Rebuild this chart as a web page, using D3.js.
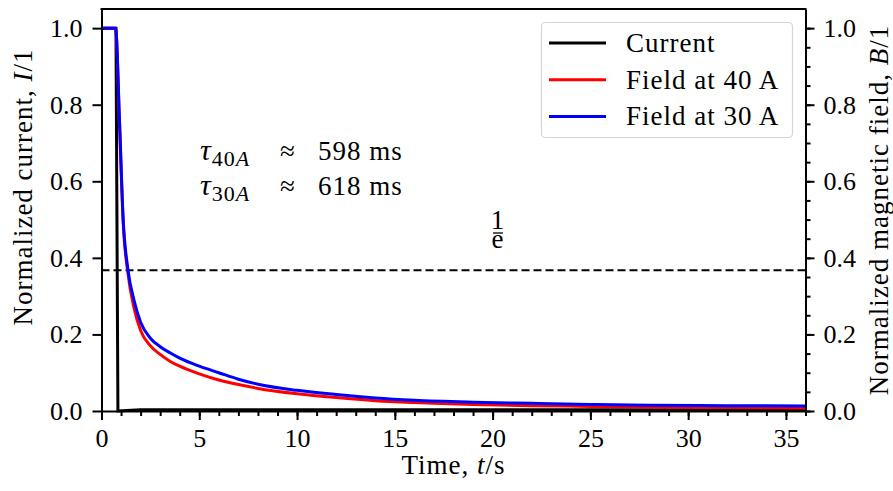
<!DOCTYPE html>
<meta charset="utf-8">
<style>
    body {
        margin: 0;
        background: #fff;
    }
    .axis path,
    .axis line {
        fill: none;
        stroke: #000;
        stroke-width: 2;
    }
    .axis text {
        font: 26px "Liberation Serif", serif;
        fill: #000;
    }
    .label {
        font: 27px "Liberation Serif", serif;
        letter-spacing: 1px;
        fill: #000;
    }
</style>
<body>
<script src="https://d3js.org/d3.v7.min.js"></script>
<script>
    // time axis shared by the two field curves (s)
    var fieldTime = [0, 0.72, 0.92, 1.11, 1.35, 1.66, 2.0, 2.5, 3.0, 3.5, 4.0, 5.0, 6.0, 7.0, 8.0, 10, 12, 14, 16, 19, 22, 25, 28, 32, 36];
    var field40 = [1, 1, 0.75, 0.49, 0.36, 0.27, 0.21, 0.17, 0.148, 0.13, 0.117, 0.097, 0.081, 0.069, 0.059, 0.045, 0.035, 0.027, 0.022, 0.017, 0.014, 0.012, 0.010, 0.009, 0.008];
    var field30 = [1, 1, 0.76, 0.50, 0.37, 0.29, 0.232, 0.19, 0.168, 0.152, 0.138, 0.117, 0.100, 0.083, 0.070, 0.054, 0.043, 0.034, 0.028, 0.023, 0.020, 0.017, 0.015, 0.014, 0.013];

    var currentTime = [0, 0.74, 0.84, 2, 36];
    var current = [1, 1, 0, 0.003, 0.003];

    var legendNames = ["Current", "Field at 40 A", "Field at 30 A"];
    var legendColors = ["#000", "red", "blue"];

    var xTicks = [0, 5, 10, 15, 20, 25, 30, 35];
    var yTicks = [0, 0.2, 0.4, 0.6, 0.8, 1.0];
    var invE = Math.exp(-1);

    var width = 893, height = 491;
    var plotL = 101.5, plotR = 805.5, plotT = 9, plotB = 411;

    var x = d3.scaleLinear().domain([0, 36]).range([plotL, plotR]);
    var y = d3.scaleLinear().domain([0, 1.05]).range([plotB, plotT]);

    var svg = d3.select("body").append("svg")
        .attr("width", width)
        .attr("height", height);

    // 1/e line
    svg.append("line")
        .attr("x1", plotL).attr("x2", plotR)
        .attr("y1", y(invE)).attr("y2", y(invE))
        .attr("stroke", "#000")
        .attr("stroke-width", 2)
        .attr("stroke-dasharray", "8,4");

    var line = d3.line()
        .x(function(d) { return x(d[0]); })
        .y(function(d) { return y(d[1]); });

    var smooth = d3.line()
        .curve(d3.curveMonotoneX)
        .x(function(d) { return x(d[0]); })
        .y(function(d) { return y(d[1]); });

    svg.append("path")
        .datum(d3.zip(currentTime, current))
        .attr("d", line)
        .attr("fill", "none")
        .attr("stroke", "#000")
        .attr("stroke-width", 3);

    svg.append("path")
        .datum(d3.zip(fieldTime, field40))
        .attr("d", smooth)
        .attr("fill", "none")
        .attr("stroke", "red")
        .attr("stroke-width", 3);

    svg.append("path")
        .datum(d3.zip(fieldTime, field30))
        .attr("d", smooth)
        .attr("fill", "none")
        .attr("stroke", "blue")
        .attr("stroke-width", 3);

    // axes
    svg.append("g")
        .attr("class", "axis")
        .attr("transform", "translate(0," + plotB + ")")
        .call(d3.axisBottom(x).tickValues(d3.range(0, 37, 1)).tickSize(5).tickFormat(""))
        .select(".domain").remove();

    svg.append("g")
        .attr("class", "axis")
        .attr("transform", "translate(0," + plotB + ")")
        .call(d3.axisBottom(x).tickValues(xTicks).tickSize(9).tickPadding(9).tickSizeOuter(0).tickFormat(d3.format("d")));

    svg.append("g")
        .attr("class", "axis")
        .attr("transform", "translate(" + plotL + ",0)")
        .call(d3.axisLeft(y).tickValues(yTicks).tickSize(9).tickPadding(10).tickSizeOuter(0).tickFormat(d3.format(".1f")));

    svg.append("g")
        .attr("class", "axis")
        .attr("transform", "translate(" + plotR + ",0)")
        .call(d3.axisRight(y).tickValues(d3.range(0, 1.01, 0.05)).tickSize(5).tickFormat(""))
        .select(".domain").remove();

    svg.append("g")
        .attr("class", "axis")
        .attr("transform", "translate(" + plotR + ",0)")
        .call(d3.axisRight(y).tickValues(yTicks).tickSize(9).tickPadding(9).tickSizeOuter(0).tickFormat(d3.format(".1f")));

    // top spine
    svg.append("line")
        .attr("x1", plotL - 1).attr("x2", plotR + 1)
        .attr("y1", plotT).attr("y2", plotT)
        .attr("stroke", "#000").attr("stroke-width", 2);

    // axis labels
    var xl = svg.append("text").attr("class", "label")
        .attr("x", (plotL + plotR) / 2).attr("y", 474)
        .attr("text-anchor", "middle");
    xl.append("tspan").text("Time, ");
    xl.append("tspan").attr("font-style", "italic").text("t");
    xl.append("tspan").text("/s");

    var yl = svg.append("text").attr("class", "label")
        .attr("transform", "translate(32,187) rotate(-90)")
        .attr("text-anchor", "middle");
    yl.append("tspan").text("Normalized current, ");
    yl.append("tspan").attr("font-style", "italic").text("I");
    yl.append("tspan").text("/1");

    var yr = svg.append("text").attr("class", "label")
        .attr("transform", "translate(888," + ((plotT + plotB) / 2) + ") rotate(-90)")
        .attr("text-anchor", "middle");
    yr.append("tspan").text("Normalized magnetic field, ");
    yr.append("tspan").attr("font-style", "italic").text("B");
    yr.append("tspan").text("/1");

    // tau annotations
    var taus = [["40A", "598", 160], ["30A", "618", 195]];
    taus.forEach(function(t) {
        var tx = svg.append("text").attr("class", "label")
            .attr("y", t[2]);
        tx.append("tspan").attr("x", 200).attr("font-style", "italic").attr("font-size", "30px").text("τ");
        tx.append("tspan").attr("font-size", "22px").attr("dy", 6).text(t[0].slice(0, 2));
        tx.append("tspan").attr("font-size", "22px").attr("font-style", "italic").text(t[0].slice(2));
        tx.append("tspan").attr("x", 280).attr("dy", -6).text("≈");
        tx.append("tspan").attr("x", 318).text(t[1] + " ms");
    });

    // 1/e label
    svg.append("text").attr("class", "label")
        .attr("x", 498).attr("y", 229)
        .attr("text-anchor", "middle")
        .attr("font-size", "17px")
        .text("1");
    svg.append("line")
        .attr("x1", 493).attr("x2", 503)
        .attr("y1", 233).attr("y2", 233)
        .attr("stroke", "#000").attr("stroke-width", 1.3);
    svg.append("text").attr("class", "label")
        .attr("x", 498).attr("y", 248)
        .attr("text-anchor", "middle")
        .attr("font-size", "17px")
        .attr("font-style", "italic")
        .text("e");

    // legend
    var legend = svg.append("g");
    legend.append("rect")
        .attr("x", 541.5).attr("y", 22.5)
        .attr("width", 251).attr("height", 115)
        .attr("rx", 4)
        .attr("fill", "#fff").attr("fill-opacity", 0.8)
        .attr("stroke", "#d6d6d6").attr("stroke-width", 1.2);

    legendNames.forEach(function(name, i) {
        var ly = 43 + i * 36.7;
        legend.append("line")
            .attr("x1", 549).attr("x2", 606)
            .attr("y1", ly).attr("y2", ly)
            .attr("stroke", legendColors[i])
            .attr("stroke-width", 3);
        legend.append("text").attr("class", "label")
            .attr("x", 626).attr("y", ly + 9)
            .text(name);
    });
</script>
</body>
